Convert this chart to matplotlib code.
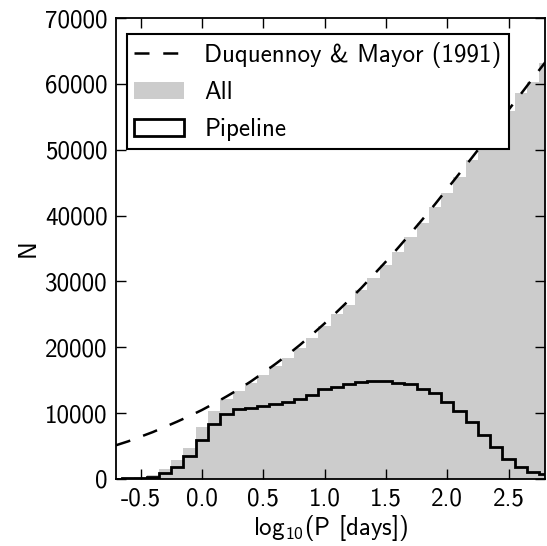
import numpy as np
import matplotlib
matplotlib.use("Agg")
import matplotlib.pyplot as plt

plt.rcParams['font.family'] = ['cmss10', 'DejaVu Sans']
plt.rcParams['axes.unicode_minus'] = False
plt.rcParams['mathtext.fontset'] = 'custom'
plt.rcParams['mathtext.rm'] = 'cmss10'
plt.rcParams['mathtext.it'] = 'cmss10'

# bin centres, log10(P [days]), bins 0.1 wide
centers = [-0.7, -0.6, -0.5, -0.4, -0.3, -0.2, -0.1, 0.0, 0.1, 0.2, 0.3, 0.4,
           0.5, 0.6, 0.7, 0.8, 0.9, 1.0, 1.1, 1.2, 1.3, 1.4, 1.5, 1.6,
           1.7, 1.8, 1.9, 2.0, 2.1, 2.2, 2.3, 2.4, 2.5, 2.6, 2.7, 2.8]
n_all = [50, 100, 250, 600, 1450, 2900, 4750, 7800, 10300, 12100, 13400, 14500,
         15800, 17100, 18300, 19850, 21350, 23200, 25050, 26400, 28700, 30450, 32500, 34500,
         36700, 38800, 41350, 43400, 45800, 48450, 51000, 53500, 55800, 58550, 60350, 63100]
n_pipe = [30, 80, 150, 350, 900, 1800, 3500, 5900, 8300, 9800, 10600, 10800,
          11000, 11300, 11600, 12100, 12800, 13600, 14000, 14400, 14700, 14900, 14800, 14550,
          14350, 13700, 13000, 11650, 10300, 8600, 6700, 4800, 3050, 1800, 1050, 750]
# Duquennoy & Mayor (1991) curve read at the bin centres
n_dm = [5100, 5700, 6400, 7100, 7900, 8700, 9550, 10450, 11450, 12500, 13600, 14800,
        16100, 17450, 18850, 20350, 21950, 23600, 25350, 27150, 29000, 31000, 33000, 35100,
        37250, 39450, 41700, 44050, 46400, 48750, 51150, 53600, 56050, 58450, 60900, 63300]

edges = np.arange(-0.75, 2.86, 0.1)

fig = plt.figure(figsize=(5.47, 5.46), dpi=100)
ax = fig.add_axes([0.212, 0.123, 0.785, 0.844])

ax.hist(centers, bins=edges, weights=n_all, histtype='stepfilled',
        color='#cccccc', lw=0, label='All')
ax.hist(centers, bins=edges, weights=n_pipe, histtype='step',
        color='black', lw=2, label='Pipeline')
ax.plot(centers, n_dm, color='black', lw=1.8, dashes=(6, 5.5),
        label='Duquennoy & Mayor (1991)')

ax.set_xlim(-0.7, 2.8)
ax.set_ylim(0, 70000)
ax.set_xticks([-0.5, 0.0, 0.5, 1.0, 1.5, 2.0, 2.5])
ax.set_yticks(np.arange(0, 70001, 10000))
ax.tick_params(direction='in', top=True, right=True, length=7, width=1,
               labelsize=18, pad=6)
for s in ax.spines.values():
    s.set_linewidth(1.3)

ax.set_xlabel(r'log$_{10}$(P [days])', fontsize=18, labelpad=2)
ax.set_ylabel('N', fontsize=18)

h, l = ax.get_legend_handles_labels()
order = [2, 0, 1]
leg = ax.legend([h[i] for i in order], [l[i] for i in order], loc='upper left',
                bbox_to_anchor=(0.002, 0.987),
                fontsize=18, fancybox=False, framealpha=1, edgecolor='black',
                borderaxespad=0.4, handlelength=2.0, borderpad=0.3,
                labelspacing=0.55, handletextpad=0.8)
leg.get_frame().set_linewidth(1.5)

fig.savefig('out.png', dpi=100)
